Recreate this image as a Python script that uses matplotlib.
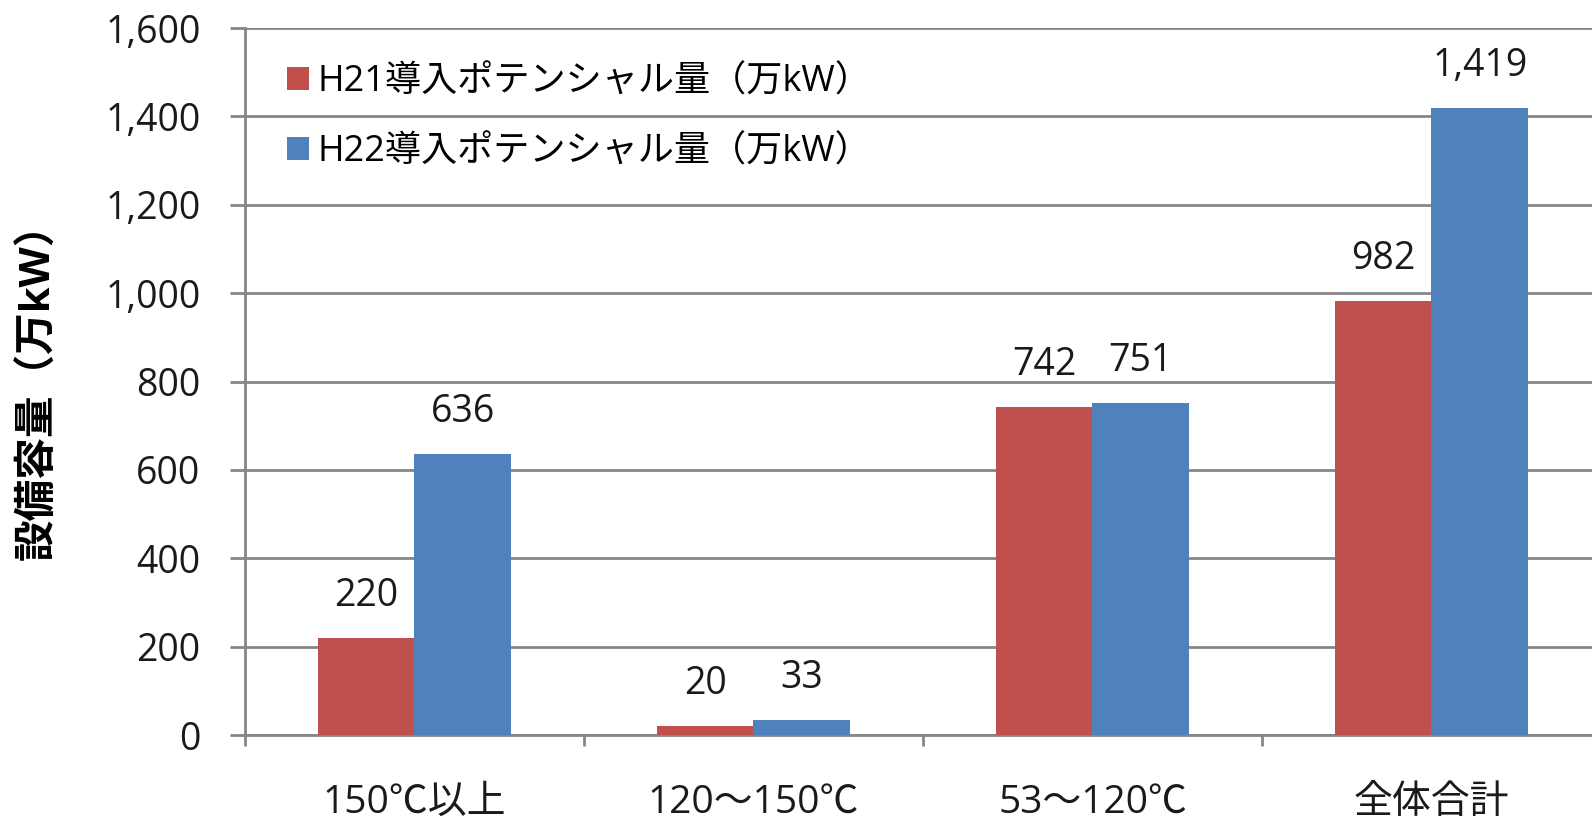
import numpy as np
import matplotlib.pyplot as plt
from matplotlib.ticker import FuncFormatter, FixedLocator

plt.rcParams['font.family'] = ['Open Sans', 'Noto Sans CJK JP', 'DejaVu Sans']

######### data #########
categories = ['150℃以上', '120～150℃', '53～120℃', '全体合計']
h21 = [220, 20, 742, 982]
h22 = [636, 33, 751, 1419]
series_names = ['H21導入ポテンシャル量（万kW）', 'H22導入ポテンシャル量（万kW）']
yticks = [0, 200, 400, 600, 800, 1000, 1200, 1400, 1600]

RED = '#C0504D'
BLUE = '#4F81BD'
GRID = '#868686'
INK = '#1a1a1a'

fig = plt.figure(figsize=(15.92, 8.27), dpi=100)
# axes runs slightly past the right edge, as in the original
ax = fig.add_axes([245 / 1592, 92 / 827, (1601 - 245) / 1592, 707 / 827])

x = np.arange(len(categories))
w = 0.285
b1 = ax.bar(x - w / 2, h21, w, color=RED, label=series_names[0], zorder=3)
b2 = ax.bar(x + w / 2, h22, w, color=BLUE, label=series_names[1], zorder=3)

for bars in (b1, b2):
    for r in bars:
        v = r.get_height()
        ax.annotate(f'{v:,.0f}', (r.get_x() + r.get_width() / 2, v),
                    xytext=(0, 23), textcoords='offset points',
                    ha='center', va='baseline', fontsize=27, color=INK)

ax.set_xlim(-0.5, len(categories) - 0.5)
ax.set_ylim(0, 1600)
ax.set_yticks(yticks)
ax.yaxis.set_major_formatter(FuncFormatter(lambda v, p: f'{v:,.0f}'))
ax.grid(axis='y', color=GRID, linewidth=2, zorder=0)
ax.set_axisbelow(True)

ax.set_xticks(x)
ax.set_xticklabels(categories, fontsize=28, color=INK)
ax.xaxis.set_minor_locator(FixedLocator(np.arange(-0.5, len(categories), 1.0)))
ax.tick_params(axis='x', which='major', length=0, pad=35)
ax.tick_params(axis='x', which='minor', length=8, width=2, color=GRID)
ax.tick_params(axis='y', length=11, width=2, color=GRID, labelsize=27,
               labelcolor=INK, pad=21)

for s in ('top', 'right'):
    ax.spines[s].set_visible(False)
for s in ('left', 'bottom'):
    ax.spines[s].set_color(GRID)
    ax.spines[s].set_linewidth(2)

ax.set_ylabel('設備容量（万kW）', fontsize=30, fontweight='bold', color='black')
ax.yaxis.set_label_coords(-0.137, 0.5)

ax.legend(loc='upper left', bbox_to_anchor=(0.007, 0.995), frameon=False,
          fontsize=26, handlelength=0.6, handleheight=0.6, handletextpad=0.25,
          labelspacing=0.95)

fig.savefig('out.png', dpi=100)
